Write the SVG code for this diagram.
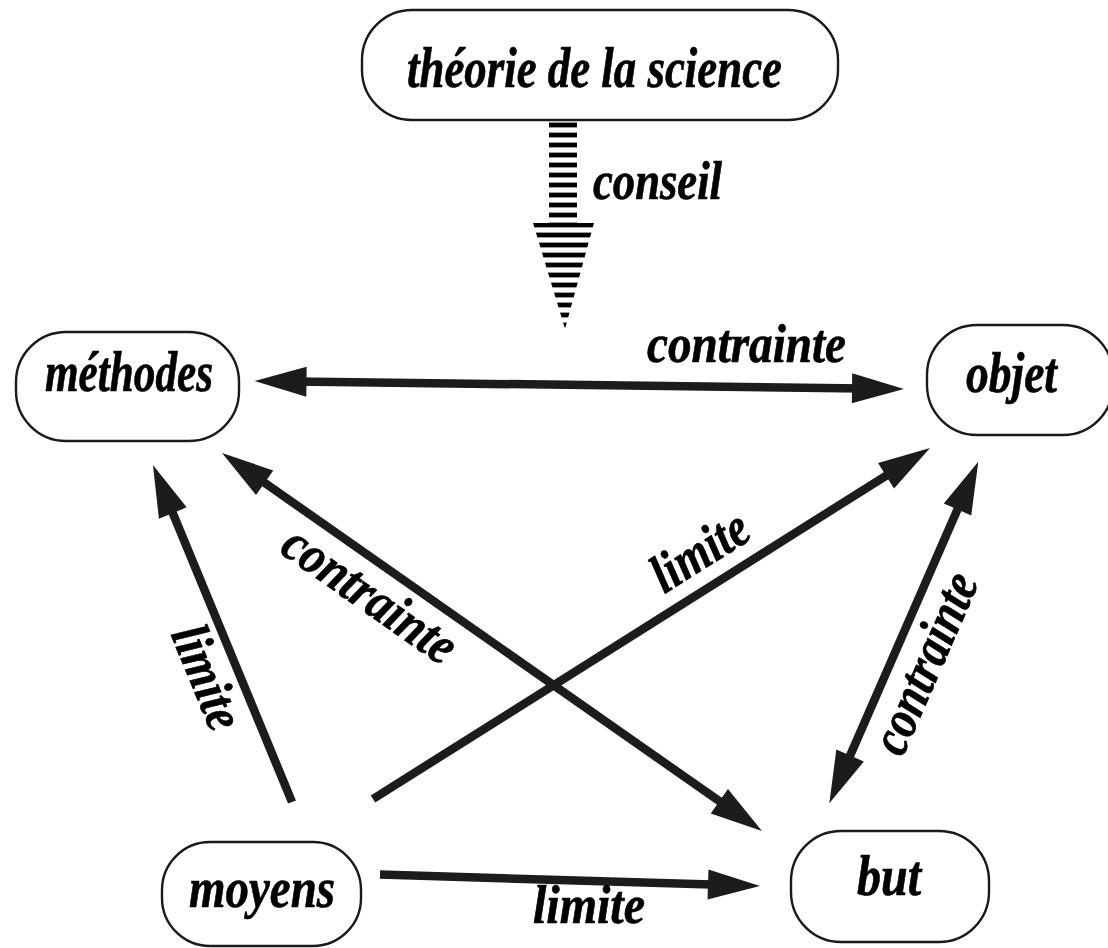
<svg xmlns="http://www.w3.org/2000/svg" width="1108" height="948" viewBox="0 0 1108 948">
  <style>
    .node rect { fill: #fff; stroke: #1a1a1a; stroke-width: 2.4; }
    .lbl { font-family: "Liberation Serif", "Times New Roman", serif; font-weight: bold; font-style: italic; font-size: 56px; fill: #000; stroke: #000; stroke-width: 0.7; }
    .elbl { font-size: 54px; }
    .edge { fill: none; stroke: #1c1c1c; stroke-width: 8.5; stroke-linecap: butt; }
    .arrowed { marker-end: url(#head); }
    .both { marker-start: url(#head); marker-end: url(#head); }
  </style>
  <defs>
    <!-- solid arrowhead; its tip sits 40 units past the end of the line -->
    <marker id="head" markerUnits="userSpaceOnUse" orient="auto-start-reverse" refX="0" refY="0" markerWidth="60" markerHeight="40" overflow="visible">
      <path d="M-12,-15 L40,0 L-12,15 Z" fill="#1c1c1c"/>
    </marker>
    <!-- horizontal stripes for the advice arrow -->
    <pattern id="stripes" patternUnits="userSpaceOnUse" x="0" y="0" width="20" height="10">
      <rect x="0" y="2.6" width="20" height="4.8" fill="#000"/>
    </pattern>
  </defs>

  <!-- connectors -->
  <g id="connectors">
    <path id="conseil-arrow" d="M549,120 L577,120 L577,223 L594,223 L565,329 L533,223 L549,223 Z" fill="url(#stripes)"/>
    <line class="edge both" x1="294.5" y1="381.5" x2="864" y2="388.5"/>
    <line class="edge arrowed" x1="292" y1="802" x2="168.2" y2="502"/>
    <line class="edge both" x1="254.8" y1="475.9" x2="729.2" y2="808.1"/>
    <line class="edge arrowed" x1="373" y1="799" x2="896.2" y2="469.3"/>
    <line class="edge both" x1="962.3" y1="498.4" x2="845.3" y2="766.6"/>
    <line class="edge arrowed" x1="380" y1="874.5" x2="720" y2="884.8"/>

    <!-- connector labels -->
    <text class="lbl elbl" x="593" y="199" textLength="129" lengthAdjust="spacingAndGlyphs">conseil</text>
    <text class="lbl elbl" x="647" y="362" textLength="199" lengthAdjust="spacingAndGlyphs">contrainte</text>
    <text class="lbl elbl" text-anchor="middle" x="191" y="684" textLength="108" lengthAdjust="spacingAndGlyphs" transform="rotate(67.6 191 684)">limite</text>
    <text class="lbl elbl" text-anchor="middle" x="360" y="609" textLength="200" lengthAdjust="spacingAndGlyphs" transform="rotate(35 360 609)">contrainte</text>
    <text class="lbl elbl" text-anchor="middle" x="709" y="566" textLength="106" lengthAdjust="spacingAndGlyphs" transform="rotate(-32.2 709 566)">limite</text>
    <text class="lbl elbl" text-anchor="middle" x="941" y="670" textLength="192" lengthAdjust="spacingAndGlyphs" transform="rotate(-66.4 941 670)">contrainte</text>
    <text class="lbl elbl" x="533" y="923" textLength="112" lengthAdjust="spacingAndGlyphs">limite</text>
  </g>

  <!-- nodes -->
  <g id="theorie" class="node">
    <rect x="362" y="10" width="476" height="110" rx="50" ry="50"/>
    <text class="lbl" x="407" y="87" textLength="375" lengthAdjust="spacingAndGlyphs">théorie de la science</text>
  </g>
  <g id="methodes" class="node">
    <rect x="16" y="332" width="223" height="109" rx="50" ry="50"/>
    <text class="lbl" x="45" y="391" textLength="168" lengthAdjust="spacingAndGlyphs">méthodes</text>
  </g>
  <g id="objet" class="node">
    <rect x="927" y="325" width="186" height="110" rx="50" ry="50"/>
    <text class="lbl" x="966" y="392" textLength="91" lengthAdjust="spacingAndGlyphs">objet</text>
  </g>
  <g id="moyens" class="node">
    <rect x="162" y="842" width="199" height="104" rx="48" ry="48"/>
    <text class="lbl" x="189" y="907" textLength="146" lengthAdjust="spacingAndGlyphs">moyens</text>
  </g>
  <g id="but" class="node">
    <rect x="791" y="831" width="198" height="111" rx="50" ry="50"/>
    <text class="lbl" x="857" y="895" textLength="64" lengthAdjust="spacingAndGlyphs">but</text>
  </g>
</svg>
